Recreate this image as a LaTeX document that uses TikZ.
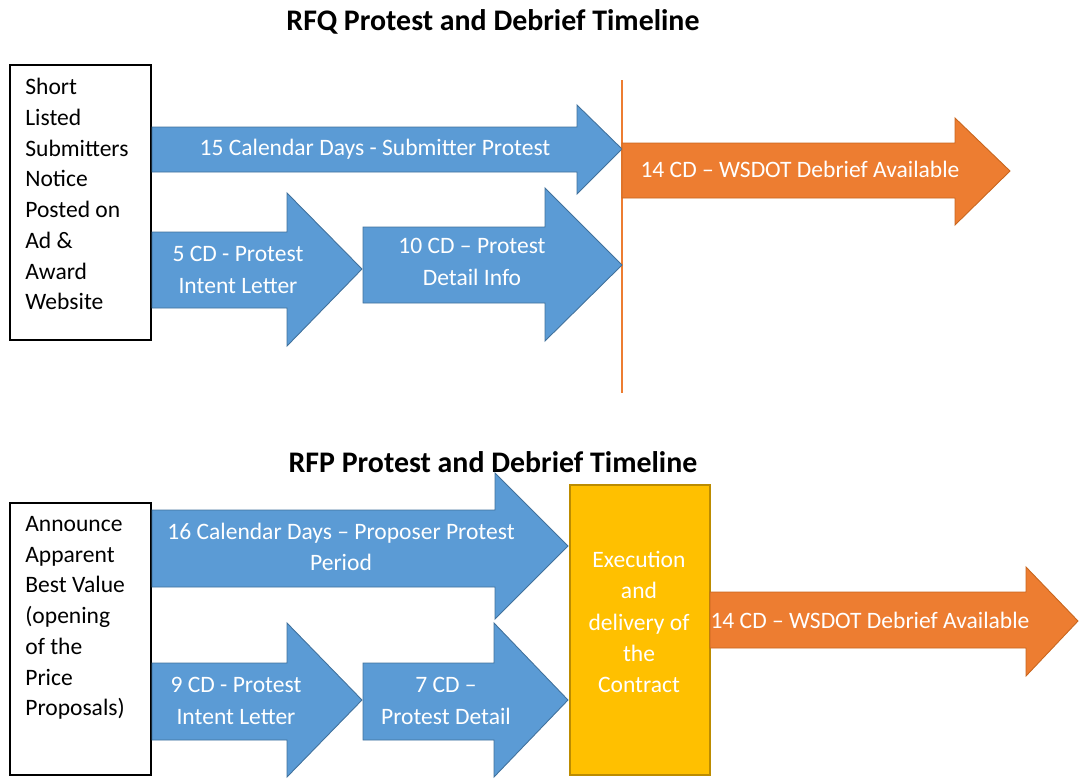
\documentclass[tikz,border=0pt]{standalone}
\usepackage{fontspec}
\setmainfont{Carlito}
\usepackage{tikz}
\definecolor{arrowblue}{HTML}{5B9BD5}
\definecolor{blueline}{HTML}{41719C}
\definecolor{debrieforange}{HTML}{ED7D31}
\definecolor{orangeline}{HTML}{C8661E}
\definecolor{contractyellow}{HTML}{FFC000}
\definecolor{yellowline}{HTML}{BC8C00}

\begin{document}
\begin{tikzpicture}[x=0.02cm,y=-0.02cm,
  bluearrow/.style={fill=arrowblue,draw=blueline,line width=0.5pt},
  orangearrow/.style={fill=debrieforange,draw=orangeline,line width=0.5pt},
  arrowtext/.style={white,align=center,inner sep=0pt,font=\fontsize{13.4}{17.8}\selectfont},
  noticebox/.style={draw,line width=1.1pt,rectangle,inner sep=0pt},
  noticetext/.style={anchor=north west,align=left,inner sep=0pt,font=\fontsize{13.4}{17.5}\selectfont},
  title/.style={font=\fontsize{17}{20}\selectfont\bfseries,inner sep=0pt}]
\useasboundingbox (0,0) rectangle (1079,779);
% RFQ timeline
\node[title] (rfqtitle) at (493,22) {RFQ Protest and Debrief Timeline};
\node[noticebox, minimum width=141*0.02cm, minimum height=275*0.02cm] (shortlist) at (80.5,202.5) {};
\node[noticetext] (shortlisttext) at (25,78) {Short\\Listed\\Submitters\\Notice\\Posted on\\Ad \&\\Award\\Website};
\draw[line width=1pt,draw=debrieforange] (622,80) -- (622,393);
\draw[bluearrow] (152,127) -- (577,127) -- (577,105) -- (622,149) -- (577,194) -- (577,172) -- (152,172) -- cycle;
\draw[bluearrow] (152,232) -- (287,232) -- (287,193) -- (362,269) -- (287,346) -- (287,308) -- (152,308) -- cycle;
\draw[bluearrow] (363,227) -- (545,227) -- (545,188) -- (622,265) -- (545,341) -- (545,303) -- (363,303) -- cycle;
\draw[orangearrow] (622,143) -- (955,143) -- (955,118) -- (1010,171) -- (955,225) -- (955,198) -- (622,198) -- cycle;
\node[arrowtext] (rfqprotest) at (375,149) {15 Calendar Days - Submitter Protest};
\node[arrowtext] (rfqintent) at (238,270) {5 CD - Protest\\Intent Letter};
\node[arrowtext] (rfqdetail) at (472,262) {10 CD – Protest\\Detail Info};
\node[arrowtext] (rfqdebrief) at (800,169) {14 CD – WSDOT Debrief Available};
% RFP timeline
\node[title] (rfptitle) at (493,462) {RFP Protest and Debrief Timeline};
\node[noticebox, minimum width=141*0.02cm, minimum height=272*0.02cm] (bestvalue) at (80.5,639) {};
\node[noticetext] (bestvaluetext) at (25,516) {Announce\\Apparent\\Best Value\\(opening\\of the\\Price\\Proposals)};
\draw[bluearrow] (152,510) -- (495,510) -- (495,473) -- (568,546) -- (495,619) -- (495,587) -- (152,587) -- cycle;
\draw[bluearrow] (152,663) -- (287,663) -- (287,623) -- (362,700) -- (287,777) -- (287,740) -- (152,740) -- cycle;
\draw[bluearrow] (363,663) -- (494,663) -- (494,623) -- (568,700) -- (494,777) -- (494,740) -- (363,740) -- cycle;
\node[fill=contractyellow,draw=yellowline,line width=0.6pt,minimum width=140*0.02cm,minimum height=290*0.02cm,inner sep=0pt] (contract) at (640,630) {};
\node[arrowtext] (contracttext) at (639,622) {Execution\\and\\delivery of\\the\\Contract};
\draw[orangearrow] (710,592) -- (1026,592) -- (1026,567) -- (1078,621) -- (1026,676) -- (1026,648) -- (710,648) -- cycle;
\node[arrowtext] (rfpprotest) at (341,547) {16 Calendar Days – Proposer Protest\\Period};
\node[arrowtext] (rfpintent) at (236,701) {9 CD - Protest\\Intent Letter};
\node[arrowtext] (rfpdetail) at (446,701) {7 CD –\\Protest Detail};
\node[arrowtext] (rfpdebrief) at (870,620) {14 CD – WSDOT Debrief Available};
\end{tikzpicture}
\end{document}
